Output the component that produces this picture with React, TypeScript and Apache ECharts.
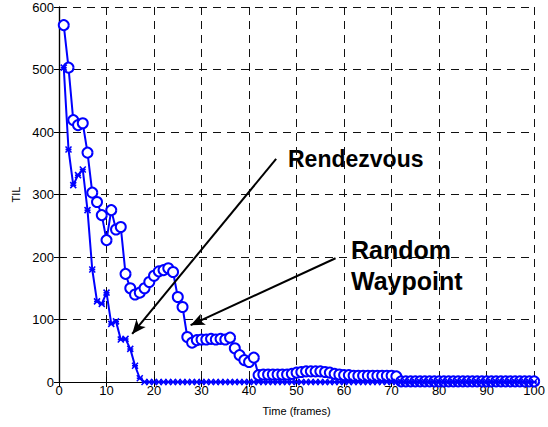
import React, { useEffect, useRef } from "react";
import * as echarts from "echarts";

// Frame indices 1..100
const frames: number[] = Array.from({ length: 100 }, (_, i) => i + 1);

// TIL for the Random Waypoint model (circle markers), frames 1..100
const randomWaypoint: number[] = [
  571, 503, 419, 411, 414, 367, 303, 288, 267, 227,
  275, 244, 248, 173, 150, 140, 143, 150, 160, 170,
  177, 179, 182, 176, 136, 120, 72, 63, 67, 68,
  68, 69, 68, 69, 68, 71, 54, 43, 35, 32,
  39, 11, 12, 12, 12, 12, 12, 12, 13, 15,
  16, 17, 17, 17, 17, 16, 15, 13, 12, 11,
  11, 10, 10, 10, 10, 10, 10, 10, 10, 10,
  9, 1, 1, 1, 1, 1, 1, 1, 1, 1,
  1, 1, 1, 1, 1, 1, 1, 1, 1, 1,
  1, 1, 1, 1, 1, 1, 1, 1, 1, 1,
];

// TIL for the Rendezvous model (cross markers), frames 1..17, zero afterwards
const rendezvousHead: number[] = [
  503, 372, 315, 331, 340, 275, 180, 129, 125, 143,
  93, 97, 68, 69, 53, 26, 6,
];
const rendezvous: number[] = frames.map((f) =>
  f <= rendezvousHead.length ? rendezvousHead[f - 1] : 0
);

const xTicks = { min: 0, max: 100, interval: 10 };
const yTicks = { min: 0, max: 600, interval: 100 };

// Annotation arrows in data coordinates: [from, to]
const rendezvousArrow: [number, number][] = [[45.7, 357], [15.4, 77]];
const waypointArrow: [number, number][] = [[58.2, 198], [27.7, 91]];

const FONT = "Liberation Sans, Arial, sans-serif";
const BLUE = "#0000ff";
const CROSS = "path://M0,0L10,10M10,0L0,10M0,5L10,5";

export default function App() {
  const ref = useRef<HTMLDivElement>(null);

  useEffect(() => {
    if (!ref.current) return;
    const chart = echarts.init(ref.current, undefined, { renderer: "svg" });

    const gridLine = {
      show: true,
      lineStyle: { color: "#111", width: 1, type: [8, 6] as number[] },
    };
    const boxLine = { show: true, lineStyle: { color: "#000", width: 1.2 } };
    const tick = { show: true, inside: true, length: 5, lineStyle: { color: "#000" } };
    const label = { color: "#000", fontSize: 13, fontFamily: FONT };

    chart.setOption({
      animation: false,
      backgroundColor: "#fff",
      grid: { left: 59, top: 7, width: 479, height: 375, containLabel: false },
      xAxis: [
        {
          type: "value",
          ...xTicks,
          position: "bottom",
          name: "Time (frames)",
          nameLocation: "middle",
          nameGap: 23,
          nameTextStyle: { color: "#000", fontSize: 11, fontFamily: FONT },
          axisLine: boxLine,
          axisTick: tick,
          axisLabel: { ...label, margin: 2 },
          splitLine: gridLine,
        },
        {
          type: "value",
          ...xTicks,
          position: "top",
          axisLine: boxLine,
          axisTick: tick,
          axisLabel: { show: false },
          splitLine: { show: false },
        },
      ],
      yAxis: [
        {
          type: "value",
          ...yTicks,
          position: "left",
          name: "TIL",
          nameLocation: "middle",
          nameGap: 38,
          nameTextStyle: { color: "#000", fontSize: 11, fontFamily: FONT },
          axisLine: boxLine,
          axisTick: tick,
          axisLabel: { ...label, margin: 5 },
          splitLine: gridLine,
        },
        {
          type: "value",
          ...yTicks,
          position: "right",
          axisLine: boxLine,
          axisTick: tick,
          axisLabel: { show: false },
          splitLine: { show: false },
        },
      ],
      series: [
        {
          name: "Random Waypoint",
          type: "line",
          data: frames.map((f, i) => [f, randomWaypoint[i]]),
          symbol: "emptyCircle",
          symbolSize: 10,
          showAllSymbol: true,
          lineStyle: { color: BLUE, width: 2 },
          itemStyle: { color: BLUE, borderColor: BLUE, borderWidth: 1.8 },
          z: 3,
          markLine: {
            silent: true,
            symbol: ["none", "arrow"],
            symbolSize: [9, 14],
            label: { show: false },
            lineStyle: { color: "#000", width: 2, type: "solid" },
            data: [
              [{ coord: rendezvousArrow[0] }, { coord: rendezvousArrow[1] }],
              [{ coord: waypointArrow[0] }, { coord: waypointArrow[1] }],
            ],
          },
        },
        {
          name: "Rendezvous",
          type: "line",
          data: frames.map((f, i) => [f, rendezvous[i]]),
          symbol: CROSS,
          symbolSize: 6,
          showAllSymbol: true,
          lineStyle: { color: BLUE, width: 2 },
          itemStyle: { color: BLUE, borderColor: BLUE, borderWidth: 1.5 },
          z: 4,
        },
      ],
      graphic: [
        {
          type: "text",
          left: 288,
          top: 147,
          style: { text: "Rendezvous", font: `bold 23px ${FONT}`, fill: "#000" },
        },
        {
          type: "text",
          left: 351,
          top: 234,
          style: {
            text: "Random\nWaypoint",
            font: `bold 25px ${FONT}`,
            fill: "#000",
            align: "center",
            lineHeight: 31,
          },
        },
      ],
    });

    return () => chart.dispose();
  }, []);

  return (
    <div
      ref={ref}
      style={{ position: "fixed", left: 0, top: 0, width: 548, height: 427 }}
    />
  );
}
